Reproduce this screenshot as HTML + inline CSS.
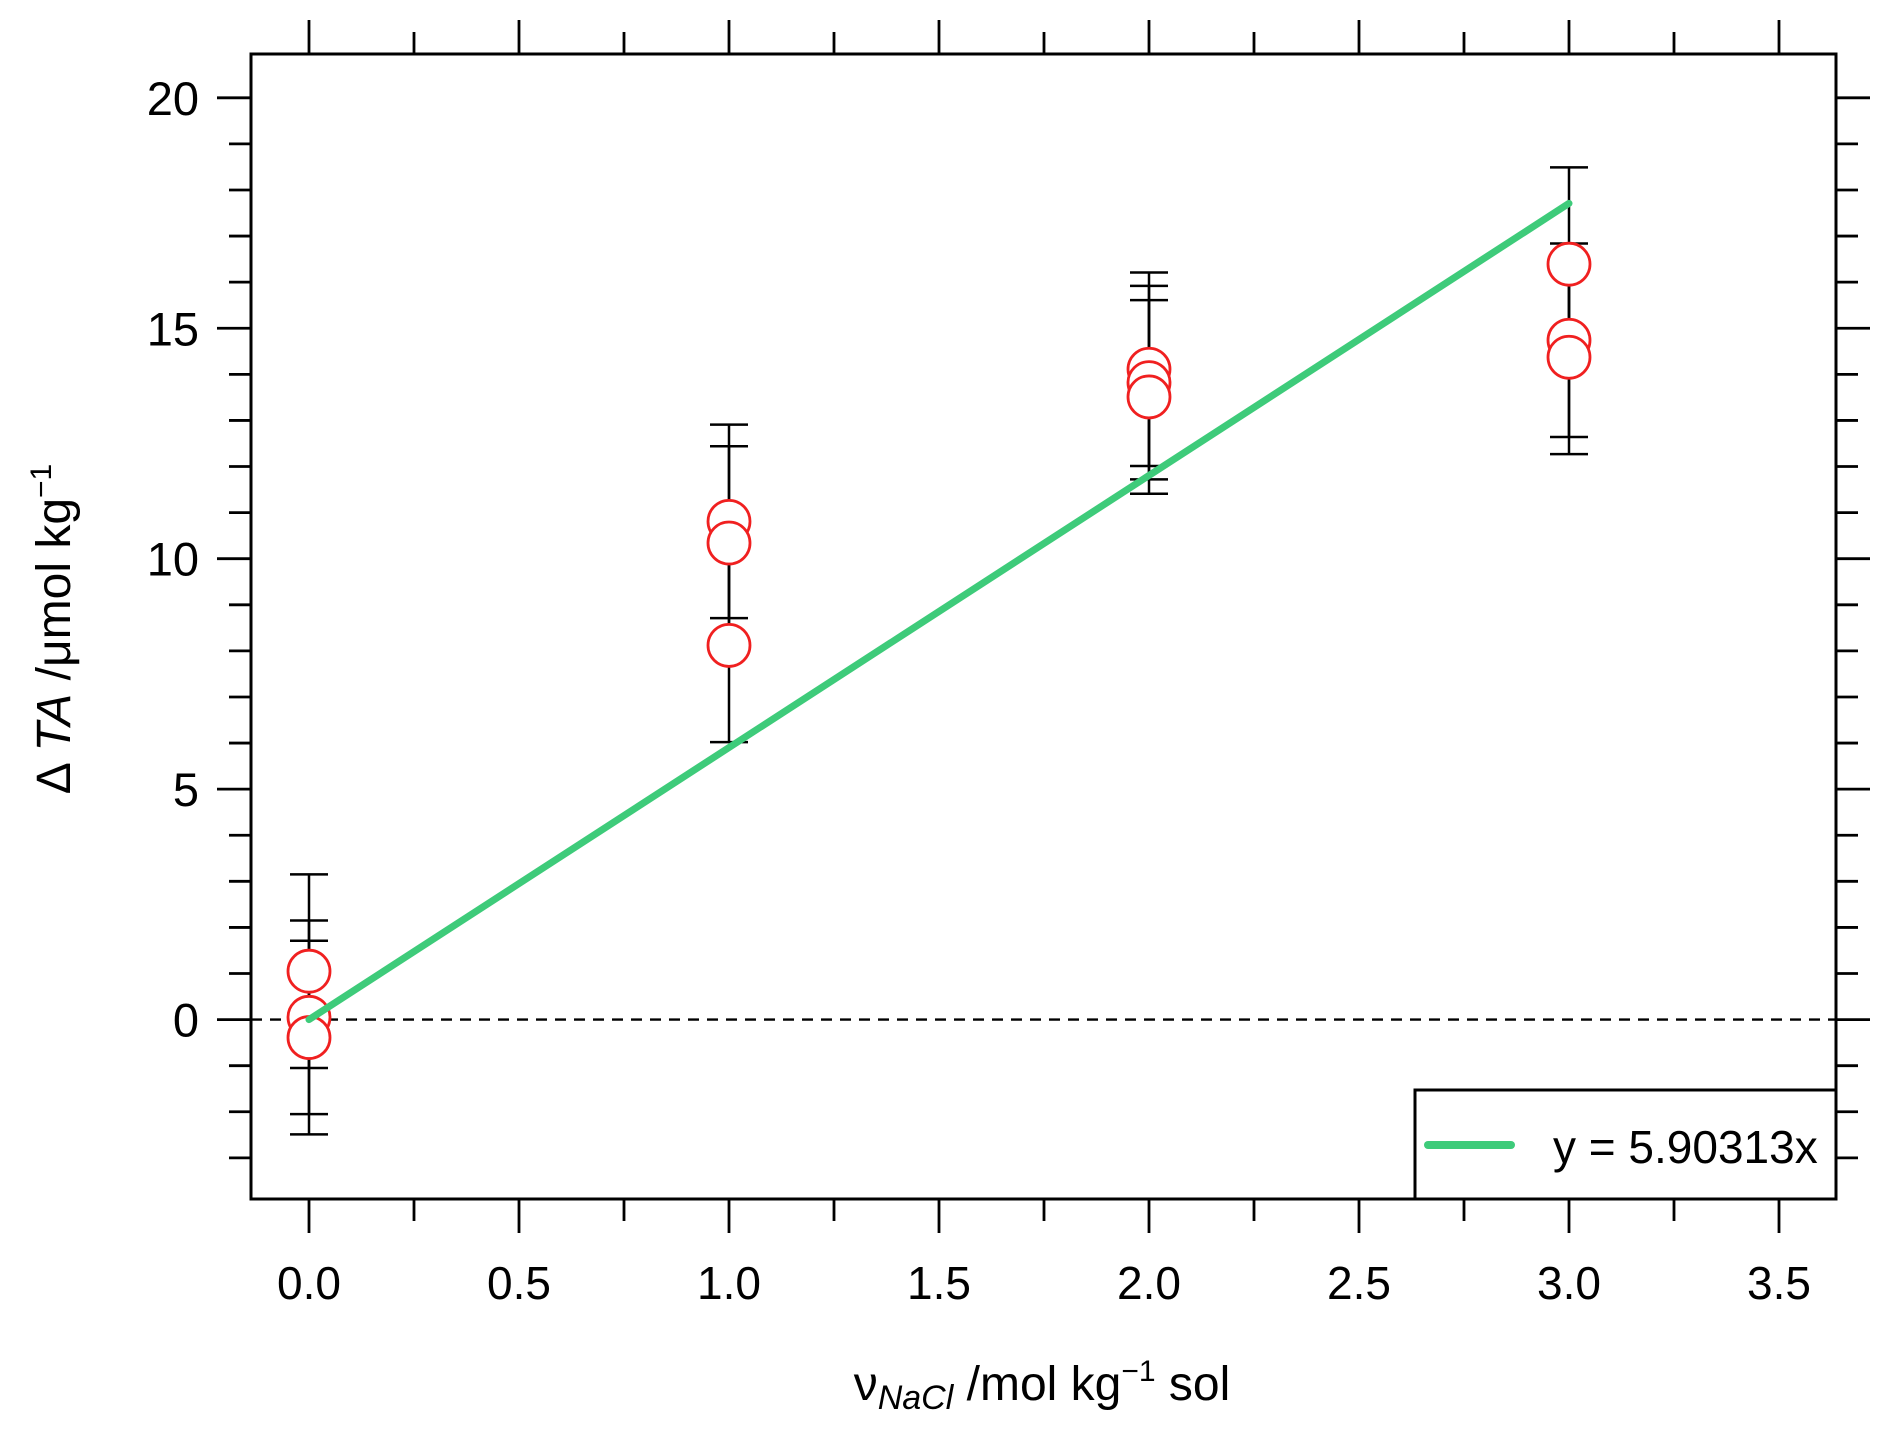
<!DOCTYPE html>
<html><head><meta charset="utf-8"><style>
html,body{margin:0;padding:0;background:#fff;}
svg{display:block;font-family:"Liberation Sans",sans-serif;}
</style></head><body>
<svg id="chart" width="1892" height="1429" viewBox="0 0 1892 1429" xmlns="http://www.w3.org/2000/svg">
<rect x="0" y="0" width="1892" height="1429" fill="#fff"/>
<g id="ticks"></g>
<g id="data"></g>
<rect x="251" y="54" width="1585" height="1145" fill="none" stroke="#000" stroke-width="3"/>
<g>
<rect x="1415" y="1090" width="421" height="109" fill="#fff" stroke="#000" stroke-width="3"/>
<line x1="1428" y1="1145" x2="1511" y2="1145" stroke="#3ecb7a" stroke-width="8" stroke-linecap="round"/>
<text x="1553" y="1163" font-size="46">y = 5.90313x</text>
</g>
<text x="1042" y="1400" font-size="48" text-anchor="middle">ν<tspan font-style="italic" font-size="34" dy="9">NaCl</tspan><tspan dy="-9"> /mol kg</tspan><tspan font-size="30" dy="-19">−1</tspan><tspan dy="19"> sol</tspan></text>
<text transform="translate(70,629) rotate(-90)" font-size="48" text-anchor="middle">Δ <tspan font-style="italic">TA</tspan> /μmol kg<tspan font-size="30" dy="-19">−1</tspan></text>
</svg>
<script>
const xTicks=[0,0.5,1.0,1.5,2.0,2.5,3.0,3.5];
const xTickLabels=["0.0","0.5","1.0","1.5","2.0","2.5","3.0","3.5"];
const yTicks=[0,5,10,15,20];
const yTickLabels=["0","5","10","15","20"];
const groupX=[0,0,0,1,1,1,2,2,2,3,3,3];
const pointY=[1.05,0.05,-0.39,10.81,10.34,8.12,14.11,13.82,13.51,16.39,14.74,14.37];
const errY=[2.1,2.1,2.1,2.1,2.1,2.1,2.1,2.1,2.1,2.1,2.1,2.1];
const fitSlope=[5.90313];
const fitRange=[0,3];

const L=251,T=54,R=1836,B=1199;
function px(x){return 309+x*420;}
function py(y){return 1019.6-y*46.09;}
const NS="http://www.w3.org/2000/svg";
function mk(tag,attrs,parent){const e=document.createElementNS(NS,tag);for(const k in attrs)e.setAttribute(k,attrs[k]);parent.appendChild(e);return e;}
const tg=document.getElementById('ticks');
const dg=document.getElementById('data');
for(let i=0;i<=14;i++){
  const v=i*0.25; const major=(i%2===0); const x=px(v);
  if(x<L||x>R)continue;
  const len=major?34:22;
  const t1=mk('line',{x1:x,y1:B,x2:x,y2:B+len,stroke:'#000','stroke-width':2.8},tg);
  
  
  const t2=mk('line',{x1:x,y1:T,x2:x,y2:T-len,stroke:'#000','stroke-width':2.8},tg);
  
  
}
xTicks.forEach((v,i)=>{
  const t=mk('text',{x:px(v),y:1299,'font-size':46,'text-anchor':'middle'},tg);
  t.textContent=xTickLabels[i];
  
  
});
for(let v=-3;v<=20;v++){
  const y=py(v); const major=(v%5===0); const len=major?34:22;
  const t1=mk('line',{x1:L,y1:y,x2:L-len,y2:y,stroke:'#000','stroke-width':2.8},tg);
  
  
  const t2=mk('line',{x1:R,y1:y,x2:R+len,y2:y,stroke:'#000','stroke-width':2.8},tg);
  
  
}
yTicks.forEach((v,i)=>{
  const t=mk('text',{x:199,y:py(v)+17,'font-size':47,'text-anchor':'end'},tg);
  t.textContent=yTickLabels[i];
  
  
});
const z=mk('line',{x1:L,y1:py(0),x2:R,y2:py(0),stroke:'#000','stroke-width':2.4,'stroke-dasharray':'11,8'},dg);


groupX.forEach((gx,i)=>{
  const x=px(gx), y1=py(pointY[i]+errY[i]), y2=py(pointY[i]-errY[i]);
  const g=mk('g',{stroke:'#000','stroke-width':2.5},dg);
  
  
  mk('line',{x1:x,y1:y1,x2:x,y2:y2},g);
  mk('line',{x1:x-19,y1:y1,x2:x+19,y2:y1},g);
  mk('line',{x1:x-19,y1:y2,x2:x+19,y2:y2},g);
});
groupX.forEach((gx,i)=>{
  const c=mk('circle',{cx:px(gx),cy:py(pointY[i]),r:21,fill:'#fff',stroke:'#f02020','stroke-width':2.8},dg);
  
  
});
const fl=mk('line',{x1:px(fitRange[0]),y1:py(fitSlope[0]*fitRange[0]),x2:px(fitRange[1]),y2:py(fitSlope[0]*fitRange[1]),stroke:'#3ecb7a','stroke-width':7,'stroke-linecap':'round'},dg);


</script>
</body></html>
